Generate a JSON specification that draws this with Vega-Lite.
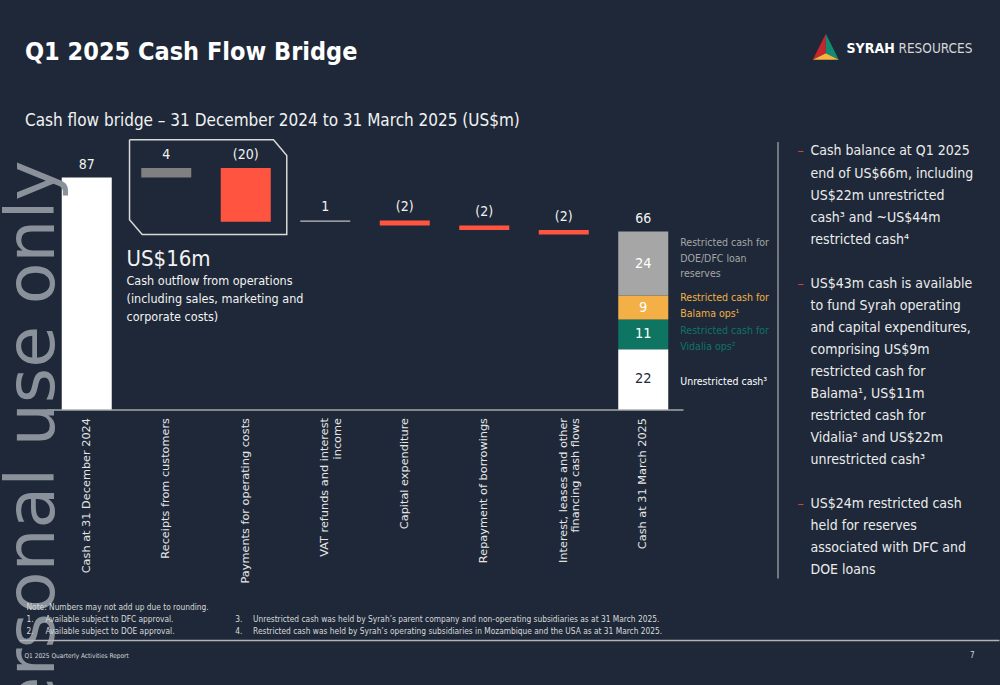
{
  "$schema": "https://vega.github.io/schema/vega-lite/v6.json",
  "background": "#1e2838",
  "padding": {"left": 0, "top": 33, "right": 0, "bottom": 0},
  "config": {
    "view": {"stroke": null},
    "font": "DejaVu Sans Condensed, DejaVu Sans, sans-serif",
    "axis": {"grid": false}
  },
  "datasets": {
    "bars": [
      {"category": "Cash at 31 December 2024", "kind": "total", "start": 0, "end": 86.7},
      {"category": "Receipts from customers", "kind": "increase", "start": 86.7, "end": 90.3},
      {"category": "Payments for operating costs", "kind": "decrease", "start": 90.3, "end": 70.2},
      {"category": "VAT refunds and interest income", "kind": "vat", "start": 70.2, "end": 70.7},
      {"category": "Capital expenditure", "kind": "decrease", "start": 70.7, "end": 68.8},
      {"category": "Repayment of borrowings", "kind": "decrease", "start": 68.8, "end": 67.1},
      {"category": "Interest, leases and other financing cash flows", "kind": "decrease", "start": 67.1, "end": 65.4},
      {"category": "Cash at 31 March 2025", "kind": "unrestricted", "start": 0, "end": 22.5},
      {"category": "Cash at 31 March 2025", "kind": "vidalia", "start": 22.5, "end": 33.6},
      {"category": "Cash at 31 March 2025", "kind": "balama", "start": 33.6, "end": 42.6},
      {"category": "Cash at 31 March 2025", "kind": "doe", "start": 42.6, "end": 66.5}
    ],
    "valueLabels": [
      {"category": "Cash at 31 December 2024", "text": "87", "top": 86.7},
      {"category": "Receipts from customers", "text": "4", "top": 90.3},
      {"category": "Payments for operating costs", "text": "(20)", "top": 90.3},
      {"category": "VAT refunds and interest income", "text": "1", "top": 70.7},
      {"category": "Capital expenditure", "text": "(2)", "top": 70.7},
      {"category": "Repayment of borrowings", "text": "(2)", "top": 68.8},
      {"category": "Interest, leases and other financing cash flows", "text": "(2)", "top": 67.1},
      {"category": "Cash at 31 March 2025", "text": "66", "top": 66.5}
    ],
    "segments": [
      {"category": "Cash at 31 March 2025", "kind": "doe", "value": "24", "mid": 54.55, "noteTop": 62.06, "tone": "light", "note": "Restricted cash for\nDOE/DFC loan\nreserves"},
      {"category": "Cash at 31 March 2025", "kind": "balama", "value": "9", "mid": 38.1, "noteTop": 41.5, "tone": "light", "note": "Restricted cash for\nBalama ops¹"},
      {"category": "Cash at 31 March 2025", "kind": "vidalia", "value": "11", "mid": 28.05, "noteTop": 29.16, "tone": "light", "note": "Restricted cash for\nVidalia ops²"},
      {"category": "Cash at 31 March 2025", "kind": "unrestricted", "value": "22", "mid": 11.25, "noteTop": 10.1, "tone": "dark", "note": "Unrestricted cash³"}
    ],
    "box": [
      {"i": 0, "s": 1.038, "v": 100.8},
      {"i": 1, "s": 2.849, "v": 100.8},
      {"i": 2, "s": 3.016, "v": 94.95},
      {"i": 3, "s": 3.016, "v": 65.4},
      {"i": 4, "s": 1.197, "v": 65.4},
      {"i": 5, "s": 1.038, "v": 70.9},
      {"i": 6, "s": 1.038, "v": 100.8}
    ],
    "panel": [
      {"row": 0, "text": "Cash balance at Q1 2025", "bullet": true},
      {"row": 1, "text": "end of US$66m, including", "bullet": false},
      {"row": 2, "text": "US$22m unrestricted", "bullet": false},
      {"row": 3, "text": "cash³ and ~US$44m", "bullet": false},
      {"row": 4, "text": "restricted cash⁴", "bullet": false},
      {"row": 6, "text": "US$43m cash is available", "bullet": true},
      {"row": 7, "text": "to fund Syrah operating", "bullet": false},
      {"row": 8, "text": "and capital expenditures,", "bullet": false},
      {"row": 9, "text": "comprising US$9m", "bullet": false},
      {"row": 10, "text": "restricted cash for", "bullet": false},
      {"row": 11, "text": "Balama¹, US$11m", "bullet": false},
      {"row": 12, "text": "restricted cash for", "bullet": false},
      {"row": 13, "text": "Vidalia² and US$22m", "bullet": false},
      {"row": 14, "text": "unrestricted cash³", "bullet": false},
      {"row": 16, "text": "US$24m restricted cash", "bullet": true},
      {"row": 17, "text": "held for reserves", "bullet": false},
      {"row": 18, "text": "associated with DFC and", "bullet": false},
      {"row": 19, "text": "DOE loans", "bullet": false}
    ],
    "notes": [
      {"row": 0, "col": "note", "num": "", "text": "Note: Numbers may not add up due to rounding."},
      {"row": 1, "col": "a", "num": "1.", "text": "Available subject to DFC approval."},
      {"row": 2, "col": "a", "num": "2.", "text": "Available subject to DOE approval."},
      {"row": 1, "col": "b", "num": "3.", "text": "Unrestricted cash was held by Syrah’s parent company and non-operating subsidiaries as at 31 March 2025."},
      {"row": 2, "col": "b", "num": "4.", "text": "Restricted cash was held by Syrah’s operating subsidiaries in Mozambique and the USA as at 31 March 2025."}
    ]
  },
  "bounds": "flush",
  "spacing": 95,
  "hconcat": [
    {
      "width": 636,
      "height": 267.5,
      "title": {
        "text": "Q1 2025 Cash Flow Bridge",
        "subtitle": "Cash flow bridge – 31 December 2024 to 31 March 2025 (US$m)",
        "anchor": "start",
        "frame": "group",
        "dx": -22,
        "offset": 8,
        "font": "DejaVu Sans Condensed, DejaVu Sans, sans-serif",
        "fontSize": 25,
        "fontWeight": "bold",
        "color": "#ffffff",
        "subtitleFont": "DejaVu Sans Condensed, DejaVu Sans, sans-serif",
        "subtitleFontSize": 17,
        "subtitleColor": "#f2f2f2",
        "subtitlePadding": 48
      },
      "resolve": {"scale": {"x": "independent", "y": "independent"}},
      "layer": [
        {
          "resolve": {"scale": {"color": "independent"}},
          "layer": [
            {
              "data": {"name": "bars"},
              "mark": {"type": "bar"},
              "encoding": {
                "x": {
                  "field": "category", "type": "nominal", "sort": null,
                  "scale": {
                    "domain": ["Cash at 31 December 2024", "Receipts from customers", "Payments for operating costs", "VAT refunds and interest income", "Capital expenditure", "Repayment of borrowings", "Interest, leases and other financing cash flows", "Cash at 31 March 2025"],
                    "paddingInner": 0.371, "paddingOuter": 0.1855
                  },
                  "axis": {
                    "title": null, "labelAngle": -90, "ticks": false, "labelPadding": 8,
                    "labelColor": "#e6e6e6", "labelFont": "DejaVu Sans", "labelFontSize": 11.3,
                    "labelLineHeight": 12.5, "labelLimit": 400,
                    "domainColor": "#a6a6a6", "domainWidth": 1.5,
                    "labelExpr": "datum.value == 'VAT refunds and interest income' ? ['VAT refunds and interest', 'income'] : datum.value == 'Interest, leases and other financing cash flows' ? ['Interest, leases and other', 'financing cash flows'] : datum.label"
                  }
                },
                "y": {"field": "start", "type": "quantitative", "scale": {"domain": [0, 100], "nice": false, "zero": false}, "axis": null},
                "y2": {"field": "end"},
                "color": {
                  "field": "kind", "type": "nominal", "legend": null,
                  "scale": {
                    "domain": ["total", "increase", "decrease", "vat", "unrestricted", "vidalia", "balama", "doe"],
                    "range": ["#ffffff", "#808080", "#ff5440", "#bfbfbf", "#ffffff", "#0e7563", "#f2b046", "#a6a6a6"]
                  }
                }
              }
            },
            {
              "data": {"name": "valueLabels"},
              "mark": {"type": "text", "baseline": "middle", "dy": -13, "fontSize": 14, "color": "#f2f2f2"},
              "encoding": {
                "x": {"field": "category", "type": "nominal"},
                "y": {"field": "top", "type": "quantitative"},
                "text": {"field": "text"}
              }
            },
            {
              "data": {"name": "segments"},
              "transform": [{"filter": "datum.tone == 'light'"}],
              "mark": {"type": "text", "baseline": "middle", "fontSize": 14.5, "color": "#ffffff"},
              "encoding": {
                "x": {"field": "category", "type": "nominal"},
                "y": {"field": "mid", "type": "quantitative"},
                "text": {"field": "value"}
              }
            },
            {
              "data": {"name": "segments"},
              "transform": [{"filter": "datum.tone == 'dark'"}],
              "mark": {"type": "text", "baseline": "middle", "fontSize": 14.5, "color": "#1e2838"},
              "encoding": {
                "x": {"field": "category", "type": "nominal"},
                "y": {"field": "mid", "type": "quantitative"},
                "text": {"field": "value"}
              }
            },
            {
              "data": {"name": "segments"},
              "mark": {"type": "text", "align": "left", "baseline": "middle", "dx": 12, "fontSize": 10.5, "lineHeight": 15.5, "lineBreak": "\n"},
              "encoding": {
                "x": {"field": "category", "type": "nominal", "bandPosition": 1},
                "y": {"field": "noteTop", "type": "quantitative"},
                "text": {"field": "note"},
                "color": {
                  "field": "kind", "type": "nominal", "legend": null,
                  "scale": {"domain": ["doe", "balama", "vidalia", "unrestricted"], "range": ["#a6a6a6", "#f2b046", "#0e7563", "#ffffff"]}
                }
              }
            }
          ]
        },
        {
          "layer": [
            {
              "data": {"name": "box"},
              "mark": {"type": "line", "color": "#d9d9d9", "strokeWidth": 1.5},
              "encoding": {
                "x": {"field": "s", "type": "quantitative", "scale": {"domain": [0, 8], "nice": false, "zero": false}, "axis": null},
                "y": {"field": "v", "type": "quantitative", "scale": {"domain": [0, 100], "nice": false, "zero": false}, "axis": null},
                "order": {"field": "i"}
              }
            },
            {
              "data": {"values": [{"text": "Personal use only"}]},
              "mark": {"type": "text", "angle": 270, "align": "right", "baseline": "alphabetic", "font": "DejaVu Sans", "fontSize": 68, "color": "#8a919b"},
              "encoding": {
                "x": {"datum": 0.094, "type": "quantitative"},
                "y": {"datum": 93.1, "type": "quantitative"},
                "text": {"field": "text"}
              }
            },
            {
              "data": {"values": [{"text": "US$16m"}]},
              "mark": {"type": "text", "align": "left", "baseline": "alphabetic", "fontSize": 22, "color": "#f2f2f2"},
              "encoding": {
                "x": {"datum": 1.0, "type": "quantitative"},
                "y": {"datum": 53.46, "type": "quantitative"},
                "text": {"field": "text"}
              }
            },
            {
              "data": {"values": [{"text": "Cash outflow from operations\n(including sales, marketing and\ncorporate costs)"}]},
              "mark": {"type": "text", "align": "left", "baseline": "alphabetic", "fontSize": 12.5, "lineHeight": 18, "lineBreak": "\n", "color": "#f2f2f2"},
              "encoding": {
                "x": {"datum": 1.0, "type": "quantitative"},
                "y": {"datum": 46.36, "type": "quantitative"},
                "text": {"field": "text"}
              }
            }
          ]
        },
        {
          "layer": [
            {
              "data": {"name": "notes"},
              "transform": [{"filter": "datum.col == 'note'"}],
              "mark": {"type": "text", "align": "left", "baseline": "middle", "fontSize": 8.3, "color": "#d9d9d9"},
              "encoding": {
                "x": {"datum": 0.027, "type": "quantitative", "scale": {"domain": [0.0475, 0.6835], "nice": false, "zero": false}, "axis": null},
                "y": {"field": "row", "type": "quantitative", "scale": {"domain": [-38.79, -16.5], "reverse": true, "nice": false, "zero": false}, "axis": null},
                "text": {"field": "text"}
              }
            },
            {
              "data": {"name": "notes"},
              "transform": [{"filter": "datum.col == 'a'"}],
              "mark": {"type": "text", "align": "left", "baseline": "middle", "fontSize": 8.3, "color": "#d9d9d9"},
              "encoding": {"x": {"datum": 0.027, "type": "quantitative"}, "y": {"field": "row", "type": "quantitative"}, "text": {"field": "num"}}
            },
            {
              "data": {"name": "notes"},
              "transform": [{"filter": "datum.col == 'a'"}],
              "mark": {"type": "text", "align": "left", "baseline": "middle", "fontSize": 8.3, "color": "#d9d9d9"},
              "encoding": {"x": {"datum": 0.046, "type": "quantitative"}, "y": {"field": "row", "type": "quantitative"}, "text": {"field": "text"}}
            },
            {
              "data": {"name": "notes"},
              "transform": [{"filter": "datum.col == 'b'"}],
              "mark": {"type": "text", "align": "left", "baseline": "middle", "fontSize": 8.3, "color": "#d9d9d9"},
              "encoding": {"x": {"datum": 0.2357, "type": "quantitative"}, "y": {"field": "row", "type": "quantitative"}, "text": {"field": "num"}}
            },
            {
              "data": {"name": "notes"},
              "transform": [{"filter": "datum.col == 'b'"}],
              "mark": {"type": "text", "align": "left", "baseline": "middle", "fontSize": 8.3, "color": "#d9d9d9"},
              "encoding": {"x": {"datum": 0.2536, "type": "quantitative"}, "y": {"field": "row", "type": "quantitative"}, "text": {"field": "text"}}
            },
            {
              "data": {"values": [{"line": "footer"}]},
              "mark": {"type": "rule", "color": "#b4b4b4", "strokeWidth": 1.5},
              "encoding": {
                "x": {"datum": 0.02, "type": "quantitative"},
                "x2": {"datum": 1.0},
                "y": {"datum": 2.75, "type": "quantitative"}
              }
            },
            {
              "data": {"values": [{"text": "Q1 2025 Quarterly Activities Report"}]},
              "mark": {"type": "text", "align": "left", "baseline": "middle", "fontSize": 6.5, "color": "#d9d9d9"},
              "encoding": {"x": {"datum": 0.025, "type": "quantitative"}, "y": {"datum": 4, "type": "quantitative"}, "text": {"field": "text"}}
            },
            {
              "data": {"values": [{"text": "7"}]},
              "mark": {"type": "text", "align": "right", "baseline": "middle", "fontSize": 8, "color": "#d9d9d9"},
              "encoding": {"x": {"datum": 0.975, "type": "quantitative"}, "y": {"datum": 4, "type": "quantitative"}, "text": {"field": "text"}}
            }
          ]
        }
      ]
    },
    {
      "width": 221,
      "height": 436.5,
      "layer": [
        {
          "data": {"values": [{"edge": "divider"}]},
          "mark": {"type": "rule", "color": "#c8c8c8", "strokeWidth": 1},
          "encoding": {
            "x": {"datum": 0.7785, "type": "quantitative", "scale": {"domain": [0.7785, 0.9995], "nice": false, "zero": false}, "axis": null}
          }
        },
        {
          "data": {"name": "panel"},
          "transform": [{"filter": "datum.bullet === true"}],
          "mark": {"type": "text", "align": "left", "baseline": "middle", "fontSize": 14, "color": "#d0473a", "text": "–"},
          "encoding": {
            "x": {"datum": 0.798, "type": "quantitative"},
            "y": {"field": "row", "type": "quantitative", "scale": {"domain": [-0.43, 19.37], "reverse": true, "nice": false, "zero": false}, "axis": null}
          }
        },
        {
          "data": {"name": "panel"},
          "mark": {"type": "text", "align": "left", "baseline": "middle", "fontSize": 14, "color": "#ececec"},
          "encoding": {
            "x": {"datum": 0.811, "type": "quantitative"},
            "y": {"field": "row", "type": "quantitative"},
            "text": {"field": "text"}
          }
        },
        {
          "data": {"values": [{"part": "left"}]},
          "mark": {"type": "point", "shape": "M0,-1L-1,1L0,0.5Z", "filled": true, "size": 676, "opacity": 1, "color": "#c9252c", "strokeWidth": 0},
          "encoding": {"x": {"datum": 0.8263, "type": "quantitative"}, "y": {"datum": -4.75, "type": "quantitative"}}
        },
        {
          "data": {"values": [{"part": "right"}]},
          "mark": {"type": "point", "shape": "M0,-1L1,1L0,0.5Z", "filled": true, "size": 676, "opacity": 1, "color": "#138a72", "strokeWidth": 0},
          "encoding": {"x": {"datum": 0.8263, "type": "quantitative"}, "y": {"datum": -4.75, "type": "quantitative"}}
        },
        {
          "data": {"values": [{"part": "bottom"}]},
          "mark": {"type": "point", "shape": "M-1,1L1,1L0,0.5Z", "filled": true, "size": 676, "opacity": 1, "color": "#f2b541", "strokeWidth": 0},
          "encoding": {"x": {"datum": 0.8263, "type": "quantitative"}, "y": {"datum": -4.75, "type": "quantitative"}}
        },
        {
          "data": {"values": [{"text": "SYRAH"}]},
          "mark": {"type": "text", "align": "left", "baseline": "middle", "fontSize": 14, "fontWeight": "bold", "color": "#ffffff"},
          "encoding": {"x": {"datum": 0.847, "type": "quantitative"}, "y": {"datum": -4.67, "type": "quantitative"}, "text": {"field": "text"}}
        },
        {
          "data": {"values": [{"text": "RESOURCES"}]},
          "mark": {"type": "text", "align": "left", "baseline": "middle", "fontSize": 13.5, "color": "#d6d6d6"},
          "encoding": {"x": {"datum": 0.899, "type": "quantitative"}, "y": {"datum": -4.67, "type": "quantitative"}, "text": {"field": "text"}}
        }
      ]
    }
  ]
}
